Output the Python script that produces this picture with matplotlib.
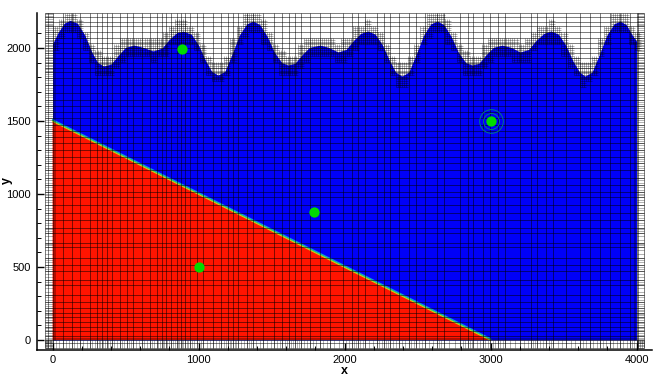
'''
plot.py

flow field with adaptive mesh, two fluids below a wavy surface
'''
import matplotlib
matplotlib.use('Agg')
import matplotlib.pyplot as plt
from matplotlib.collections import LineCollection
import numpy as np

plt.rcParams['font.family'] = ['Liberation Sans', 'DejaVu Sans']

surface_x = [0, 40, 80, 120, 170, 220, 270, 310, 350, 400, 450, 500, 558, 620, 688, 750, 800, 850, 894, 950,
             1000, 1050, 1090, 1133, 1180, 1230, 1280, 1330, 1373, 1420, 1470, 1520, 1570, 1613, 1660, 1710, 1760,
             1832, 1890, 1955, 2010, 2060, 2110, 2160, 2210, 2260, 2310, 2350, 2393, 2440, 2490, 2540, 2590, 2635,
             2680, 2730, 2780, 2830, 2873, 2920, 2970, 3020, 3079, 3140, 3202, 3260, 3310, 3365, 3414, 3465, 3515,
             3565, 3610, 3647, 3695, 3745, 3795, 3845, 3887, 3930, 3970, 4000]
surface_y = [2030, 2110, 2170, 2190, 2170, 2090, 1970, 1900, 1877, 1890, 1950, 2005, 2020, 2005, 1980, 2000, 2060,
             2105, 2116, 2095, 2020, 1910, 1840, 1815, 1840, 1960, 2090, 2165, 2185, 2160, 2080, 1970, 1900, 1884,
             1895, 1955, 2005, 2020, 2005, 1973, 1990, 2050, 2100, 2117, 2095, 2020, 1910, 1835, 1808, 1835, 1955,
             2085, 2165, 2185, 2160, 2080, 1970, 1900, 1884, 1895, 1955, 2005, 2020, 2005, 1973, 1990, 2050, 2100,
             2117, 2095, 2020, 1910, 1835, 1808, 1835, 1955, 2085, 2165, 2185, 2160, 2090, 2048]

interface_x = [0, 3000]
interface_y = [1500, 0]

probe_x = [890, 3000, 1790, 1000]
probe_y = [1990, 1500, 875, 500]

mesh_x = [-50, -30, 0, 70, 131, 188, 256, 306, 336, 370, 404, 461, 507, 553, 610, 667, 712, 747, 776, 808, 849, 877,
          906, 941, 986, 1032, 1100, 1157, 1203, 1237, 1271, 1330, 1375, 1440, 1520, 1575, 1620, 1660, 1700, 1760, 1830,
          1900, 1990, 2050, 2090, 2140, 2220, 2270, 2310, 2370, 2440, 2490, 2550, 2630, 2681, 2790, 2847, 2881, 2950,
          2995, 3052, 3098, 3200, 3280, 3315, 3383, 3429, 3520, 3612, 3680, 3749, 3817, 3886, 3954, 4000, 4010, 4050]
mesh_y = [-55, -20, 0, 25, 60, 90, 125, 160, 185, 220, 260, 310, 375, 410, 470, 515, 565, 640, 665, 735, 770, 820,
          870, 925, 980, 1015, 1060, 1110, 1165, 1210, 1255, 1300, 1350, 1390, 1430, 1475, 1520, 1560, 1600, 1645,
          1695, 1745, 1795, 1835, 1865, 1895, 1930, 1965, 2000, 2035, 2070, 2110, 2150, 2175, 2210, 2240]

band_offsets = [8, 16]

x_ticks = [0, 1000, 2000, 3000, 4000]
y_ticks = [0, 500, 1000, 1500, 2000]

blue = '#0000f8'
red = '#ff1400'
line_color = (0, 0, 0, 0.5)
fine_color = (0, 0, 0, 0.3)


def subdivide(lines, parts=3):
    ''' split each mesh interval into equal parts '''
    fine = []
    for low, high in zip(lines[:-1], lines[1:]):
        for i in range(parts):
            fine.append(low + (high - low) * i / parts)
    fine.append(lines[-1])
    return fine


def surface_blocks(size=42, reach=68):
    ''' mesh segments of the refined blocks along the surface '''
    segments = []
    for x0 in np.arange(0, 4000, size):
        for y0 in np.arange(1650, 2240, size):
            height = np.interp(x0 + size / 2, surface_x, surface_y)
            if abs(y0 + size / 2 - height) > reach:
                continue
            for i in range(3):
                x = x0 + i * size / 3
                y = y0 + i * size / 3
                segments.append([(x, y0), (x, y0 + size)])
                segments.append([(x0, y), (x0 + size, y)])
    return segments


fig = plt.figure(figsize=(6.64, 3.77), dpi=100)
ax = fig.add_axes([36.5 / 664, 1 - 349.5 / 377, (652 - 36.5) / 664, (349.5 - 13) / 377])

# fluids
ax.fill_between(surface_x, 0, surface_y, color=blue, lw=0, zorder=1)
ax.fill([interface_x[0], interface_x[0], interface_x[1]], [0, interface_y[0], interface_y[1]],
        color=red, lw=0, zorder=2)
ax.plot(interface_x, [y + 10 for y in interface_y], color='#1090e0', lw=0.8, zorder=3)
ax.plot(interface_x, [y + 3 for y in interface_y], color='#20d080', lw=0.9, zorder=3)
ax.plot(interface_x, [y - 3 for y in interface_y], color='#c8d810', lw=0.7, zorder=3)

# mesh
segments = []
for x in mesh_x:
    segments.append([(x, mesh_y[0]), (x, mesh_y[-1])])
for y in mesh_y:
    segments.append([(mesh_x[0], y), (mesh_x[-1], y)])
mesh = LineCollection(segments, colors=[line_color], linewidths=0.72, zorder=4)
mesh.set_snap(True)
ax.add_collection(mesh)

fine_segments = []
for y in subdivide(mesh_y):
    fine_segments.append([(mesh_x[0], y), (0, y)])
    fine_segments.append([(4000, y), (mesh_x[-1], y)])
for x in subdivide(mesh_x):
    fine_segments.append([(x, mesh_y[0]), (x, 0)])
for offset in band_offsets:
    fine_segments.append([(offset, 0), (offset, 2030)])
    fine_segments.append([(4000 - offset, 0), (4000 - offset, 2048)])
    fine_segments.append([(0, offset), (4000, offset)])
fine_segments += surface_blocks()
fine_mesh = LineCollection(fine_segments, colors=[fine_color], linewidths=0.72, zorder=4)
fine_mesh.set_snap(True)
ax.add_collection(fine_mesh)

# probes
ax.plot(probe_x, probe_y, 'o', color='#00dc00', ms=7.4, mew=0, zorder=6)
for ring in [11.5, 17]:
    ax.plot(probe_x[1], probe_y[1], 'o', mfc='none', mec='#008c70', mew=0.6, ms=ring, zorder=5)

ax.set_xlim(-110, 4106)
ax.set_ylim(-65, 2240)
ax.spines['top'].set_visible(False)
ax.spines['right'].set_visible(False)
ax.spines['left'].set_linewidth(1.1)
ax.spines['bottom'].set_linewidth(1.1)
ax.set_xticks(x_ticks)
ax.set_yticks(y_ticks)
ax.set_xticks([x for x in range(200, 4000, 200) if x % 1000], minor=True)
ax.set_yticks([y for y in range(100, 2200, 100) if y % 500], minor=True)
ax.tick_params(which='major', direction='in', length=5, width=1, labelsize=8, pad=4, colors='black')
ax.tick_params(which='minor', direction='in', length=3, width=0.7)
fig.text(344 / 664, 1 - 371 / 377, 'x', fontweight='bold', fontsize=9, ha='center', va='center')
fig.text(7 / 664, 1 - 180 / 377, 'y', fontweight='bold', fontsize=9, ha='center', va='center', rotation=90)

fig.savefig('out.png', dpi=100)
